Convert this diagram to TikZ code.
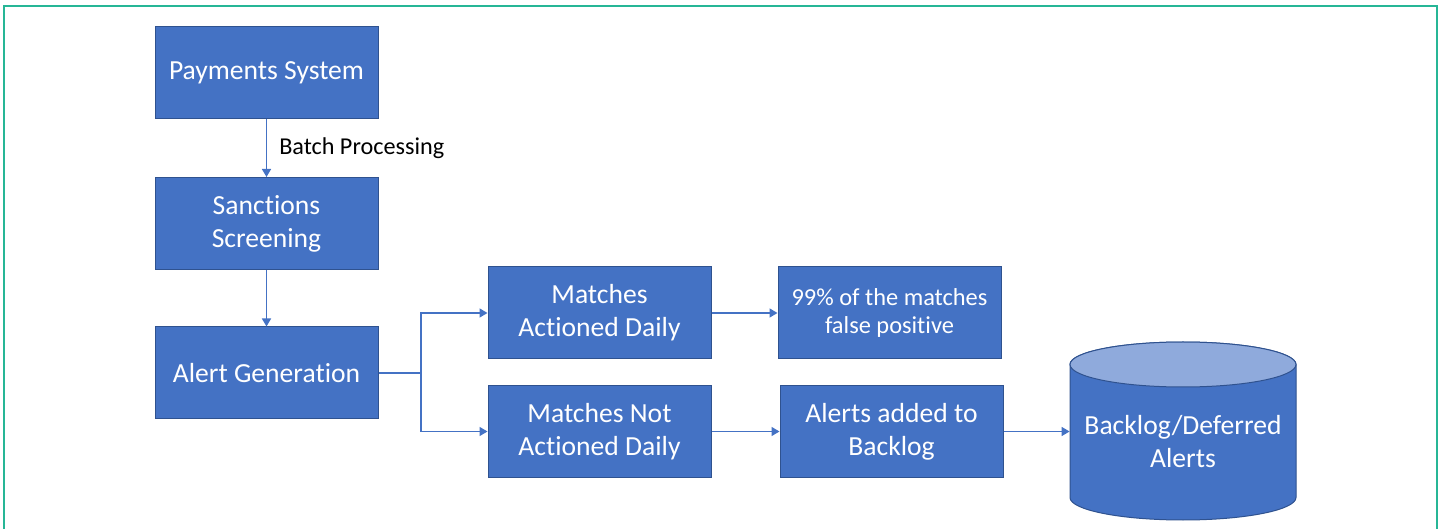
\documentclass[tikz,border=0pt]{standalone}
\usepackage{fontspec}
\setmainfont[Ligatures={NoCommon}]{Carlito}
\usetikzlibrary{arrows.meta}
\definecolor{boxblue}{HTML}{4472C4}
\definecolor{boxline}{HTML}{2F528F}
\definecolor{toplight}{HTML}{8FAADC}
\definecolor{framegreen}{RGB}{38,182,150}
\tikzset{
	process/.style={draw=boxline, fill=boxblue, line width=0.5pt, text=white, minimum width=111.5pt, minimum height=46pt, inner sep=2pt, align=center, font=\fontsize{13.8}{16.4}\selectfont},
	smallprocess/.style={process, font=\fontsize{12.2}{14}\selectfont},
	dbtext/.style={text=white, minimum width=113pt, inner sep=0pt, align=center, font=\fontsize{13.8}{16.5}\selectfont},
	flow/.style={draw=boxblue, line width=0.75pt, -{Triangle[length=4pt,width=4.5pt]}},
	flowline/.style={draw=boxblue, line width=0.75pt},
	flowlabel/.style={text=black, font=\fontsize{12.1}{14}\selectfont, inner sep=0pt}
}
\newcommand{\dbcylinder}[2] % {x}{y} centre du cylindre
{
	\draw [boxline, line width=0.5pt, fill=boxblue] (#1-113,#2-66.5) -- (#1-113,#2+66.5) arc [start angle=180, end angle=360, x radius=56.5pt, y radius=11.25pt] -- (#1+113,#2-66.5) arc [start angle=0, end angle=180, x radius=56.5pt, y radius=11.25pt] -- cycle;
	\draw [boxline, line width=0.5pt, fill=toplight] (#1,#2-66.5) ellipse [x radius=56.5pt, y radius=11.25pt];
}

\begin{document}
\begin{tikzpicture}[x=0.5pt, y=-0.5pt]
	\useasboundingbox (0,0) rectangle (1442,529);
	\draw [framegreen, line width=0.75pt] (4,535) -- (4,6) -- (1437,6) -- (1437,535);

	\node[process] (payments) at (266.5,73) {Payments System};
	\node[process] (screening) at (266.5,223.5) {Sanctions\\Screening};
	\node[process] (alertgen) at (266.5,373) {Alert Generation};
	\node[process] (actioned) at (599.5,313) {Matches\\Actioned Daily};
	\node[process] (notactioned) at (599.5,431.5) {Matches Not\\Actioned Daily};
	\node[smallprocess] (falsepos) at (889.5,313) {99\% of the matches\\false positive};
	\node[process] (addbacklog) at (891.5,431.5) {Alerts added to\\Backlog};

	\dbcylinder{1183}{431}
	\node[dbtext] (backlog) at (1183,442) {Backlog/Deferred\\Alerts};

	\coordinate (split) at (421,373);

	\draw[flow] (payments) -- node[flowlabel, right=6pt] {Batch Processing} (screening);
	\draw[flow] (screening) -- (alertgen);
	\draw[flowline] (alertgen.east) -- (split);
	\draw[flow] (split) |- (actioned.west);
	\draw[flow] (split) |- (notactioned.west);
	\draw[flow] (actioned) -- (falsepos);
	\draw[flow] (notactioned) -- (addbacklog);
	\draw[flow] (addbacklog.east) -- (addbacklog.east -| backlog.west);
\end{tikzpicture}
\end{document}
